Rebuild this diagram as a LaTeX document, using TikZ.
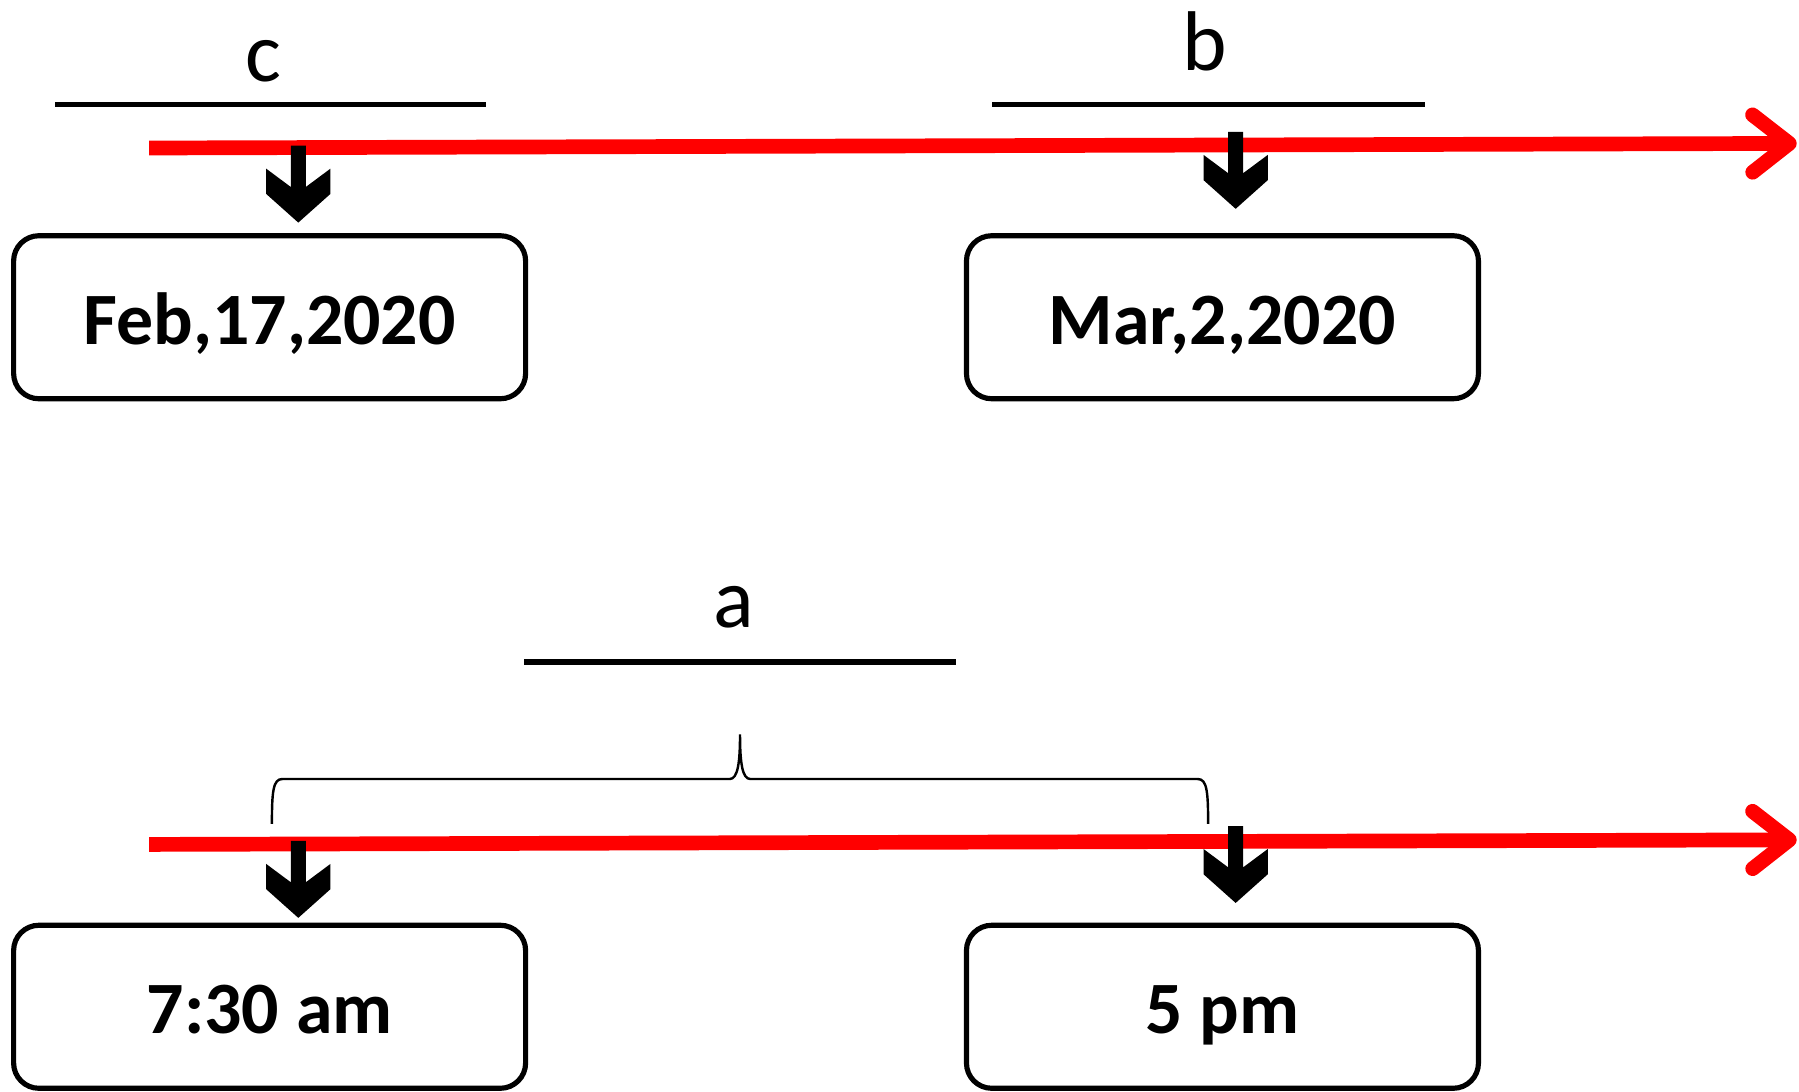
\documentclass[tikz,border=0pt]{standalone}
\usepackage{fontspec}
\setmainfont{Carlito}
\usetikzlibrary{arrows.meta}

\begin{document}
\begin{tikzpicture}[x=0.01cm, y=-0.01cm,
	timeAxis/.style={draw=red,line width=0.128cm,-{Straight Barb[length=0.32cm,width=0.5cm,round]},
		preaction={draw=black!18,transform canvas={yshift=-0.045cm}}},
	dateBox/.style={rectangle,rounded corners=0.22cm,minimum width=4.46cm,minimum height=1.42cm,draw=black,line width=0.045cm,
		text height=16pt,text depth=2.6pt,font=\fontsize{18.3}{22}\selectfont\bfseries},
	labelText/.style={inner sep=0pt,font=\fontsize{21}{25}\selectfont},
	blankLine/.style={draw=black,line width=0.05cm},
	tickArrow/.pic={\fill[black] (0,0)--(-28,-25)--(-28,-47)--(-6.5,-31)--(-6.5,-67)--(6.5,-67)--(6.5,-31)--(28,-47)--(28,-25)--cycle;},
]

	\useasboundingbox (0,0) rectangle (1568,951);

	\def\colL{235};
	\def\colR{1065.5};

	\node[labelText](c) at(230,53){c};
	\node[labelText](b) at(1050,36){b};
	\node[labelText](a) at(640,529){a};

	\draw[blankLine](48,91)--(424,91);
	\draw[blankLine](865,91)--(1242,91);
	\draw[blankLine](457,577)--(833,577);

	\node[dateBox](feb) at(\colL,276.5){Feb,17,2020};
	\node[dateBox](mar) at(\colR,276.5){Mar,2,2020};
	\node[dateBox](am) at(\colL,877.5){7:30 am};
	\node[dateBox](pm) at(\colR,877.5){5 pm};

	\draw[timeAxis](130,129)--(1566,125);
	\draw[timeAxis](130,736)--(1566,732);

	\pic at(260,194){tickArrow};
	\pic at(1077,182){tickArrow};
	\pic at(260,800){tickArrow};
	\pic at(1077,787){tickArrow};

	\draw[line width=0.6pt](237,718) .. controls (237,690) and (238,679) .. (246,679)--(636,679)
		.. controls (643,679) and (645,665) .. (645,640)
		.. controls (645,665) and (647,679) .. (654,679)--(1044,679)
		.. controls (1052,679) and (1053,690) .. (1053,718);

\end{tikzpicture}
\end{document}
